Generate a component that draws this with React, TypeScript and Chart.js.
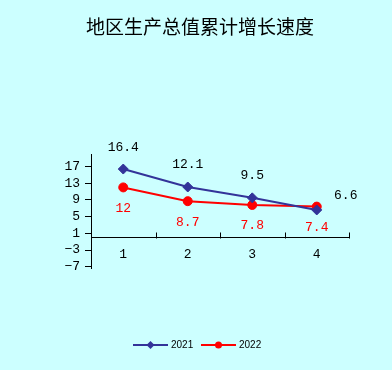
import React, { useEffect, useRef } from 'react';
import { Chart, registerables } from 'chart.js';

Chart.register(...registerables);

const titleText = '地区生产总值累计增长速度';
const categories = ['1', '2', '3', '4'];
const seriesNames = ['2021', '2022'];
const values2021 = [16.4, 12.1, 9.5, 6.6];
const values2022 = [12, 8.7, 7.8, 7.4];
const yTickValues = [-7, -3, 1, 5, 9, 13, 17];
const yTickLabels = ['−7', '−3', '1', '5', '9', '13', '17'];

const BG = '#ccffff';
const BLUE = '#333399';
const RED = '#ff0000';
const NUM_SIZE = 13;
const NUM_FAMILY = '"Liberation Mono", monospace';
const NUM_FONT = `${NUM_SIZE}px ${NUM_FAMILY}`;

const labelOffsets: number[][][] = [
  [[0, -21], [0, -22], [0, -22], [29, -14]],
  [[0, 21], [0, 21], [0, 21], [0, 21]],
];
const labelColors = ['#000000', RED];

const decorPlugin = {
  id: 'decor',
  afterDraw(chart: any) {
    const ctx = chart.ctx as CanvasRenderingContext2D;
    const xs = chart.scales.x;
    const ys = chart.scales.y;
    const y0 = Math.round(ys.getPixelForValue(0)) + 0.5;
    ctx.save();

    // upward tick marks on the category axis
    ctx.strokeStyle = '#000';
    ctx.lineWidth = 1;
    for (let i = 0; i < categories.length; i++) {
      const px = Math.round(xs.getPixelForValue(i + 0.5)) + 0.5;
      ctx.beginPath();
      ctx.moveTo(px, y0);
      ctx.lineTo(px, y0 - 6);
      ctx.stroke();
    }

    // data labels
    ctx.font = NUM_FONT;
    ctx.textAlign = 'center';
    ctx.textBaseline = 'middle';
    chart.data.datasets.forEach((ds: any, di: number) => {
      const meta = chart.getDatasetMeta(di);
      ctx.fillStyle = labelColors[di];
      meta.data.forEach((pt: any, i: number) => {
        const [dx, dy] = labelOffsets[di][i];
        ctx.fillText(String(ds.data[i]), pt.x + dx, pt.y + dy);
      });
    });

    // title
    ctx.fillStyle = '#000';
    ctx.font = '19px "Noto Sans CJK SC", sans-serif';
    ctx.fillText(titleText, 200, 27);

    // legend
    const ly = 345;
    const items = [
      { x0: 133, x1: 168, color: BLUE, style: 'diamond', tx: 171 },
      { x0: 201, x1: 236, color: RED, style: 'circle', tx: 239 },
    ];
    items.forEach((it, idx) => {
      ctx.strokeStyle = it.color;
      ctx.lineWidth = 2;
      ctx.beginPath();
      ctx.moveTo(it.x0, ly);
      ctx.lineTo(it.x1, ly);
      ctx.stroke();
      const cx = (it.x0 + it.x1) / 2;
      ctx.fillStyle = it.color;
      ctx.beginPath();
      if (it.style === 'diamond') {
        const r = 4;
        ctx.moveTo(cx - r, ly);
        ctx.lineTo(cx, ly - r);
        ctx.lineTo(cx + r, ly);
        ctx.lineTo(cx, ly + r);
        ctx.closePath();
      } else {
        ctx.arc(cx, ly, 3.5, 0, Math.PI * 2);
      }
      ctx.fill();
      ctx.fillStyle = '#000';
      ctx.font = '10px "Liberation Sans", sans-serif';
      ctx.textAlign = 'left';
      ctx.textBaseline = 'middle';
      ctx.fillText(seriesNames[idx], it.tx, ly);
    });
    ctx.restore();
  },
};

export default function App() {
  const canvasRef = useRef<HTMLCanvasElement | null>(null);

  useEffect(() => {
    document.body.style.margin = '0';
    const canvas = canvasRef.current;
    if (!canvas) return;
    const chart = new Chart(canvas, {
      type: 'line',
      data: {
        labels: categories,
        datasets: [
          {
            label: seriesNames[0],
            data: values2021,
            borderColor: BLUE,
            backgroundColor: BLUE,
            borderWidth: 2,
            pointStyle: 'rectRot',
            pointRadius: 5,
            pointBorderWidth: 1,
            pointBorderColor: BLUE,
            pointBackgroundColor: BLUE,
            tension: 0,
          },
          {
            label: seriesNames[1],
            data: values2022,
            borderColor: RED,
            backgroundColor: RED,
            borderWidth: 2,
            pointStyle: 'circle',
            pointRadius: 4.5,
            pointBorderWidth: 1,
            pointBorderColor: RED,
            pointBackgroundColor: RED,
            tension: 0,
          },
        ],
      },
      options: {
        responsive: false,
        animation: false,
        devicePixelRatio: 1,
        layout: { padding: { top: 154, right: 43, bottom: 102, left: 0 } },
        plugins: {
          legend: { display: false },
          title: { display: false },
          tooltip: { enabled: false },
        },
        scales: {
          x: {
            type: 'category',
            position: { y: 0 } as any,
            offset: true,
            grid: { display: true, drawOnChartArea: false, drawTicks: false, color: '#000' },
            border: { display: true, color: '#000', width: 1 },
            ticks: {
              color: '#000',
              padding: 9,
              font: { family: NUM_FAMILY, size: NUM_SIZE },
            },
          },
          y: {
            type: 'linear',
            min: -7.3,
            max: 20,
            afterBuildTicks: (scale: any) => {
              scale.ticks = yTickValues.map((v) => ({ value: v }));
            },
            afterFit: (scale: any) => {
              scale.width = 91;
            },
            grid: { display: true, drawOnChartArea: false, drawTicks: true, tickLength: 6, color: '#000' },
            border: { display: true, color: '#000', width: 1 },
            ticks: {
              color: '#000',
              padding: 5,
              font: { family: NUM_FAMILY, size: NUM_SIZE },
              callback: (_v: any, i: number) => yTickLabels[i],
            },
          },
        },
      },
      plugins: [decorPlugin],
    });
    return () => chart.destroy();
  }, []);

  return (
    <div
      style={{
        position: 'fixed',
        left: 0,
        top: 0,
        width: 392,
        height: 370,
        background: BG,
      }}
    >
      <canvas ref={canvasRef} width={392} height={370} style={{ width: 392, height: 370, display: 'block' }} />
    </div>
  );
}
